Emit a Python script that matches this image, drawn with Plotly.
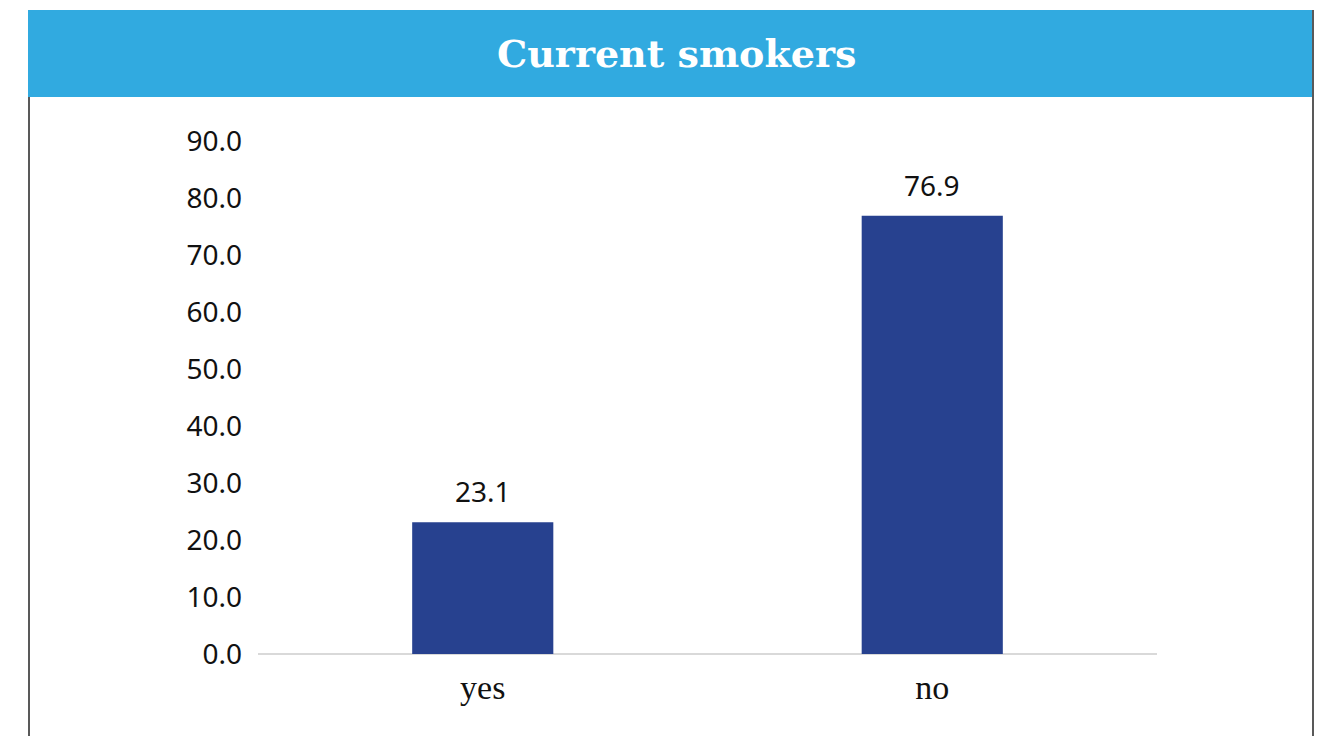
import plotly.graph_objects as go

# Share of respondents who currently smoke
categories = ["yes", "no"]
values = [23.1, 76.9]
tick_values = [0, 10, 20, 30, 40, 50, 60, 70, 80, 90]
tick_labels = ["0.0", "10.0", "20.0", "30.0", "40.0", "50.0", "60.0", "70.0", "80.0", "90.0"]
title_text = "Current smokers"

W, H = 1332, 736
BAR_COLOR = "#27418F"
HEADER_COLOR = "#31AAE0"
BORDER_COLOR = "#595959"


def px_x(v):
    return v / W


def px_y(v):
    return 1 - v / H


fig = go.Figure(
    go.Bar(
        x=categories,
        y=values,
        marker=dict(color=BAR_COLOR, line=dict(width=0)),
        hoverinfo="skip",
    )
)

# value labels above each bar
for c, v in zip(categories, values):
    fig.add_annotation(
        x=c, y=v, xref="x", yref="y",
        text=f"{v:.1f}", showarrow=False,
        yanchor="bottom", yshift=10,
        font=dict(family="Noto Sans", size=28, color="#111111"),
    )

# header band and frame
fig.add_shape(type="rect", xref="paper", yref="paper",
              x0=px_x(28), x1=px_x(1313), y0=px_y(97), y1=px_y(10),
              fillcolor=HEADER_COLOR, line=dict(width=0), layer="below")
fig.add_shape(type="line", xref="paper", yref="paper",
              x0=px_x(29), x1=px_x(29), y0=px_y(97), y1=0,
              line=dict(color=BORDER_COLOR, width=2))
fig.add_shape(type="line", xref="paper", yref="paper",
              x0=px_x(1313), x1=px_x(1313), y0=px_y(10), y1=0,
              line=dict(color=BORDER_COLOR, width=2))

fig.add_annotation(
    x=px_x(676), y=px_y(53), xref="paper", yref="paper",
    text=f"<b>{title_text}</b>", showarrow=False, xanchor="center", yanchor="middle",
    font=dict(family="DejaVu Serif", size=38, color="white"),
)

fig.update_layout(
    width=W, height=H,
    margin=dict(l=0, r=0, t=0, b=0, autoexpand=False),
    paper_bgcolor="white", plot_bgcolor="white",
    showlegend=False,
    bargap=0.686,
    xaxis=dict(
        domain=[px_x(258), px_x(1157)],
        automargin=False,
        showgrid=False, zeroline=False,
        showline=False, ticks="",
        tickfont=dict(family="Liberation Serif", size=34, color="#111111"),
        ticklabelstandoff=10,
    ),
    yaxis=dict(
        domain=[px_y(654), px_y(141)],
        automargin=False,
        range=[0, 90],
        tickvals=tick_values, ticktext=tick_labels,
        showgrid=False, zeroline=True, zerolinecolor="#D9D9D9", zerolinewidth=2,
        showline=False, ticks="",
        tickfont=dict(family="Noto Sans", size=28, color="#111111"),
        ticklabelstandoff=15,
    ),
)

fig.write_html("out.html")
